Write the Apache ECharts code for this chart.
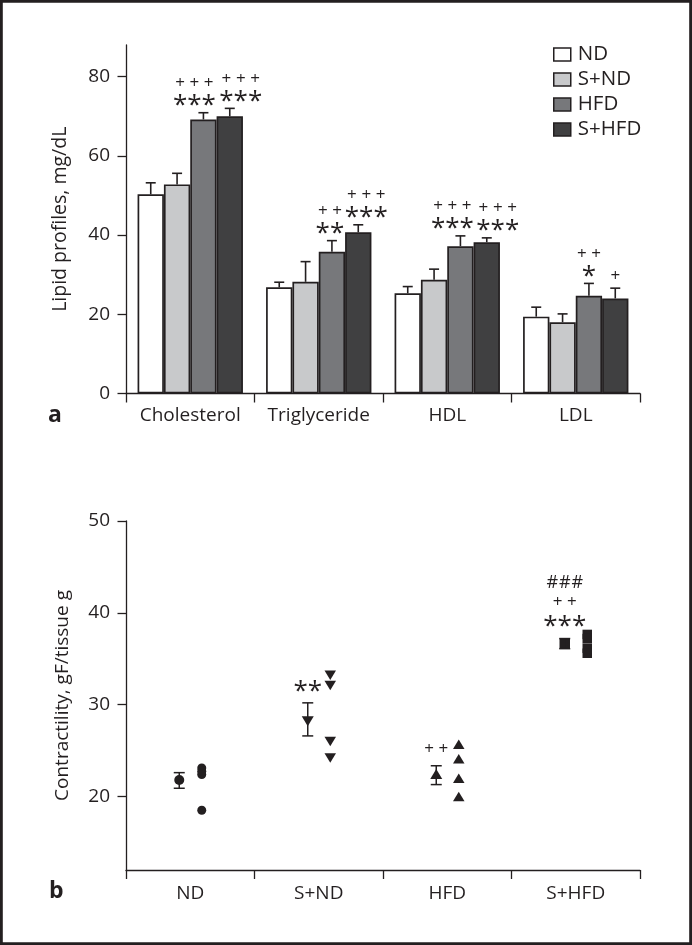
<!DOCTYPE html>
<html>
<head>
<meta charset="utf-8">
<script src="https://cdn.jsdelivr.net/npm/echarts@6/dist/echarts.min.js"></script>
<style>html,body{margin:0;padding:0;background:#fff;}#c{width:692px;height:945px;}</style>
</head>
<body>
<div id="c"></div>
<script>
// ---------- Panel a: lipid profiles ----------
const lipidCategories = ['Cholesterol', 'Triglyceride', 'HDL', 'LDL'];
const groupNames = ['ND', 'S+ND', 'HFD', 'S+HFD'];
const ndMean   = [50.3, 26.8, 25.3, 19.4];
const sndMean  = [52.8, 28.2, 28.7, 18.0];
const hfdMean  = [69.2, 35.8, 37.2, 24.7];
const shfdMean = [70.0, 40.7, 38.2, 24.0];
const ndErr    = [2.9, 1.3, 1.7, 2.4];
const sndErr   = [2.8, 5.1, 2.7, 2.1];
const hfdErr   = [1.7, 2.8, 2.6, 3.1];
const shfdErr  = [2.0, 1.9, 1.1, 2.6];
const ndStars   = ['', '', '', ''];
const ndPlus    = ['', '', '', ''];
const sndStars  = ['', '', '', ''];
const sndPlus   = ['', '', '', ''];
const hfdStars  = ['***', '**', '***', '*'];
const hfdPlus   = ['+++', '++', '+++', '++'];
const shfdStars = ['***', '***', '***', ''];
const shfdPlus  = ['+++', '+++', '+++', '+'];
const lipidTicks = [0, 20, 40, 60, 80];

// ---------- Panel b: contractility ----------
const contractGroups = ['ND', 'S+ND', 'HFD', 'S+HFD'];
const contractMean    = [21.8, 28.2, 22.45, 36.65];
const contractErrHigh = [22.6, 30.2, 23.35, 37.2];
const contractErrLow  = [20.9, 26.6, 21.3, 36.1];
const ndPoints   = [23.1, 22.75, 22.4, 18.5];
const sndPoints  = [33.2, 32.1, 26.0, 24.2];
const hfdPoints  = [25.7, 24.1, 22.0, 20.0];
const shfdPoints = [37.65, 37.2, 36.15, 35.6];
const contractStars = ['', '**', '', '***'];
const contractPlus  = ['', '', '++', '++'];
const contractHash  = ['', '', '', '###'];
const contractTicks = [20, 30, 40, 50];

// annotation layout (horizontal nudges of significance marks, px)
const labelDx = [[0, 0, 0, 0], [0, 0, 0, 0], [-9, -2, -8, 0], [11, 8, 11, 0]];

const INK = '#231f20';
const FONT = '"Open Sans", "Noto Sans", sans-serif';
const barColors = ['#ffffff', '#c8c9cb', '#77787b', '#404041'];
const CAT_GAP = 0.18;

const means = [ndMean, sndMean, hfdMean, shfdMean];
const errs = [ndErr, sndErr, hfdErr, shfdErr];
const stars = [ndStars, sndStars, hfdStars, shfdStars];
const pluses = [ndPlus, sndPlus, hfdPlus, shfdPlus];

// draw each symbol of a mark string individually, evenly spaced
function markRow(x, y, s, kind) {
  const out = [];
  const n = s.length;
  const step = kind === 'hash' ? 12.5 : 14.3;
  const font = kind === 'star' ? '26px ' + FONT : (kind === 'hash' ? '18px ' + FONT : '17px ' + FONT);
  const dy = kind === 'star' ? 6 : 0.5;
  for (let k = 0; k < n; k++) {
    out.push({ type: 'text', style: { text: s[k], x: x + (k - (n - 1) / 2) * step, y: y + dy, font: font, fill: INK, align: 'center', verticalAlign: 'middle' } });
  }
  return out;
}

function barErrRender(gi) {
  return function (params, api) {
    const i = params.dataIndex;
    const c = api.value(0), m = api.value(1), e = api.value(2);
    const base = api.coord([c, m]);
    const top = api.coord([c, m + e]);
    const band = api.size([1, 0])[0];
    const grp = band * (1 - CAT_GAP);
    const bw = grp / 4;
    const x = base[0] - grp / 2 + (gi + 0.5) * bw;
    let children = [
      { type: 'line', shape: { x1: x, y1: base[1], x2: x, y2: top[1] }, style: { stroke: INK, lineWidth: 1.6 } },
      { type: 'line', shape: { x1: x - 5, y1: top[1], x2: x + 5, y2: top[1] }, style: { stroke: INK, lineWidth: 1.6 } }
    ];
    const lx = x + labelDx[gi][i];
    let y = top[1] - 13;
    const s = stars[gi][i], p = pluses[gi][i];
    if (s) { children = children.concat(markRow(lx, y, s, 'star')); y -= 17; }
    if (p) { children = children.concat(markRow(lx, y, p, 'plus')); }
    return { type: 'group', children: children };
  };
}

function contractRender(params, api) {
  const i = params.dataIndex;
  const c = api.value(0);
  const hi = api.coord([c, api.value(1)]);
  const lo = api.coord([c, api.value(2)]);
  const x = hi[0] - 11;
  let children = [
    { type: 'line', shape: { x1: x, y1: hi[1], x2: x, y2: lo[1] }, style: { stroke: INK, lineWidth: 1.5 } },
    { type: 'line', shape: { x1: x - 5.5, y1: hi[1], x2: x + 5.5, y2: hi[1] }, style: { stroke: INK, lineWidth: 1.5 } },
    { type: 'line', shape: { x1: x - 5.5, y1: lo[1], x2: x + 5.5, y2: lo[1] }, style: { stroke: INK, lineWidth: 1.5 } }
  ];
  let y = hi[1] - 17.5;
  if (contractStars[i]) { children = children.concat(markRow(x, y, contractStars[i], 'star')); y -= 19; }
  if (contractPlus[i]) { children = children.concat(markRow(x, y, contractPlus[i], 'plus')); y -= 19.5; }
  if (contractHash[i]) { children = children.concat(markRow(x, y, contractHash[i], 'hash')); }
  return { type: 'group', children: children };
}

const series = [];
groupNames.forEach(function (g, gi) {
  series.push({
    name: g, type: 'bar', xAxisIndex: 0, yAxisIndex: 0,
    data: means[gi], barGap: '0%', barCategoryGap: (CAT_GAP * 100) + '%',
    itemStyle: { color: barColors[gi], borderColor: INK, borderWidth: 1.7 },
    z: 2
  });
});
groupNames.forEach(function (g, gi) {
  series.push({
    type: 'custom', xAxisIndex: 0, yAxisIndex: 0,
    data: means[gi].map(function (v, k) { return [k, v, errs[gi][k]]; }),
    renderItem: barErrRender(gi), z: 3, silent: true
  });
});

const pointSets = [ndPoints, sndPoints, hfdPoints, shfdPoints];
const symbols = ['circle', 'triangle', 'triangle', 'rect'];
const rotations = [0, 180, 0, 0];
const meanSizes = [10, [12, 10], [12, 10], 10.5];
const indSizes = [9, [11.5, 9.5], [11.5, 9.5], 9.5];
contractGroups.forEach(function (g, gi) {
  series.push({
    type: 'scatter', xAxisIndex: 1, yAxisIndex: 1,
    data: pointSets[gi].map(function (v) { return [gi, v]; }),
    symbol: symbols[gi], symbolRotate: rotations[gi], symbolSize: indSizes[gi], symbolOffset: [11.5, 0],
    itemStyle: { color: INK, opacity: 1 }, z: 3
  });
  series.push({
    type: 'scatter', xAxisIndex: 1, yAxisIndex: 1,
    data: [[gi, contractMean[gi]]],
    symbol: symbols[gi], symbolRotate: rotations[gi], symbolSize: meanSizes[gi], symbolOffset: [-11, 0],
    itemStyle: { color: INK, opacity: 1 }, z: 3
  });
});
series.push({
  type: 'custom', xAxisIndex: 1, yAxisIndex: 1,
  data: contractGroups.map(function (g, k) { return [k, contractErrHigh[k], contractErrLow[k]]; }),
  renderItem: contractRender, z: 4, silent: true
});

const axisLineStyle = { show: true, lineStyle: { color: INK, width: 1.3 } };

const option = {
  backgroundColor: '#ffffff',
  animation: false,
  textStyle: { fontFamily: FONT, color: INK },
  legend: {
    data: groupNames, orient: 'vertical', left: 548, top: 39,
    itemWidth: 17, itemHeight: 13, itemGap: 4, icon: 'rect',
    textStyle: { fontSize: 20.5, color: INK, fontFamily: FONT, lineHeight: 20, padding: [0, 0, 0, 2] },
    itemStyle: { borderColor: INK, borderWidth: 1.5 },
    selectedMode: false
  },
  grid: [
    { left: 126, top: 45, width: 514, height: 348.5 },
    { left: 126, top: 521, width: 514, height: 349 }
  ],
  xAxis: [
    {
      gridIndex: 0, type: 'category', data: lipidCategories,
      axisLine: axisLineStyle,
      axisTick: { show: true, interval: 0, length: 9, lineStyle: { color: INK, width: 1.3 } },
      axisLabel: { interval: 0, fontSize: 19, color: INK, margin: 13, fontFamily: FONT, hideOverlap: false }
    },
    {
      gridIndex: 1, type: 'category', data: contractGroups,
      axisLine: axisLineStyle,
      axisTick: { show: true, interval: 0, length: 9, lineStyle: { color: INK, width: 1.3 } },
      axisLabel: { interval: 0, fontSize: 19, color: INK, margin: 14, fontFamily: FONT, hideOverlap: false }
    }
  ],
  yAxis: [
    {
      gridIndex: 0, type: 'value', min: 0, max: 88,
      name: 'Lipid profiles, mg/dL', nameLocation: 'middle', nameGap: 56,
      nameTextStyle: { fontSize: 19.5, color: INK, fontFamily: FONT },
      axisLine: axisLineStyle,
      axisTick: { show: true, length: 8.5, customValues: lipidTicks, lineStyle: { color: INK, width: 1.3 } },
      axisLabel: { fontSize: 19, color: INK, margin: 16, customValues: lipidTicks, fontFamily: FONT },
      splitLine: { show: false }
    },
    {
      gridIndex: 1, type: 'value', min: 12, max: 50,
      name: 'Contractility, gF/tissue g', nameLocation: 'middle', nameGap: 54,
      nameTextStyle: { fontSize: 19, color: INK, fontFamily: FONT },
      axisLine: axisLineStyle,
      axisTick: { show: true, length: 8.5, customValues: contractTicks, lineStyle: { color: INK, width: 1.3 } },
      axisLabel: { fontSize: 19, color: INK, margin: 16, customValues: contractTicks, fontFamily: FONT },
      splitLine: { show: false }
    }
  ],
  graphic: [
    { type: 'rect', shape: { x: 1.4, y: 1.4, width: 689.2, height: 942.2 }, style: { fill: 'none', stroke: INK, lineWidth: 2.8 }, silent: true },
    { type: 'text', left: 48, top: 404, style: { text: 'a', font: 'bold 23px ' + FONT, fill: INK } },
    { type: 'text', left: 49, top: 880, style: { text: 'b', font: 'bold 23px ' + FONT, fill: INK } }
  ],
  series: series
};

const chart = echarts.init(document.getElementById('c'), null, { renderer: 'canvas' });
chart.setOption(option);
</script>
</body>
</html>
